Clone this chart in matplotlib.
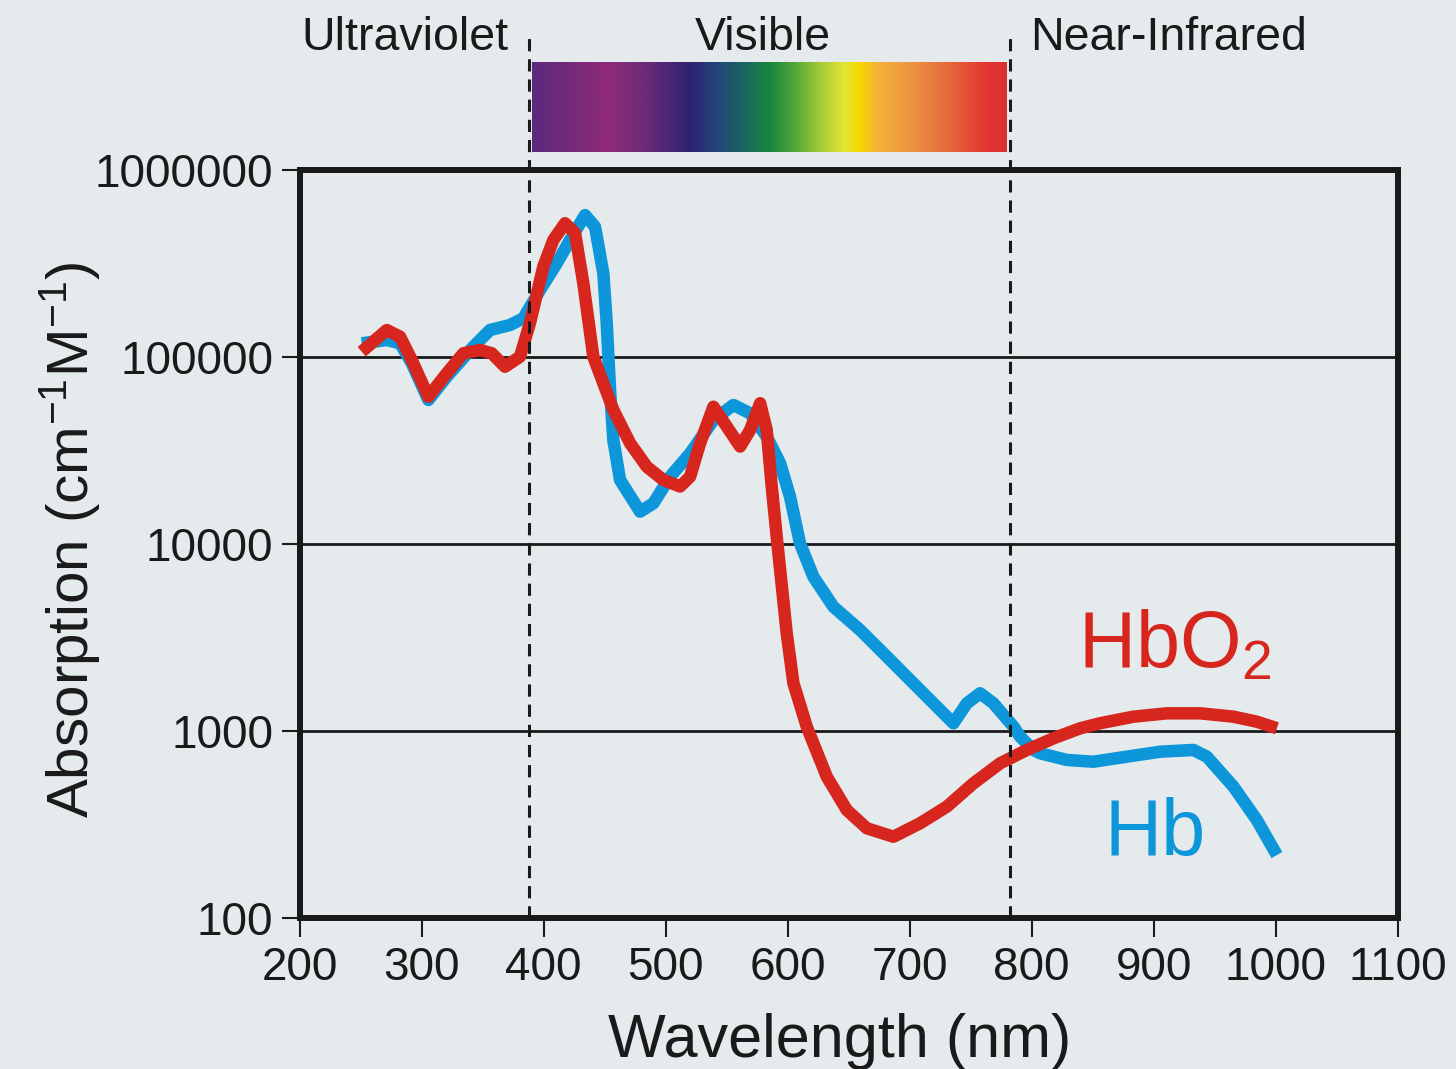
import numpy as np
import matplotlib
matplotlib.use('Agg')
import matplotlib.pyplot as plt
from matplotlib.colors import LinearSegmentedColormap
from matplotlib.ticker import NullLocator, FixedLocator, FixedFormatter
import matplotlib.transforms as mtransforms

plt.rcParams['font.family'] = ['Liberation Sans', 'DejaVu Sans']
plt.rcParams['mathtext.fontset'] = 'custom'
plt.rcParams['mathtext.rm'] = 'Liberation Sans'
plt.rcParams['mathtext.it'] = 'Liberation Sans:italic'
plt.rcParams['mathtext.bf'] = 'Liberation Sans:bold'

# ---------------- data ----------------
hb_wl = [251, 271.5, 282.4, 292, 305.6, 320.7, 342.5, 356.1, 372.5, 383.4, 397.1,
         410.8, 421.7, 434, 442.2, 449, 451.8, 454.5, 457.2, 462.7, 479.1, 490,
         503.7, 520.1, 539.2, 555.6, 569.3, 582.9, 593.9, 602, 610.2, 621.1,
         637.5, 659.4, 681.3, 703.1, 725, 735.9, 746.9, 757.8, 768.7, 785.1,
         790.6, 801.5, 807, 828.9, 850.7, 878, 905.3, 932.6, 943.6, 965.4,
         984.6, 1001]
hb_abs = [118400, 123300, 118400, 92600, 58900, 78500, 113500, 139400, 148300,
          161000, 228000, 317000, 422000, 574000, 497000, 280000, 151400, 66600,
          36000, 22000, 14890, 16500, 22900, 30500, 46000, 55400, 50000, 37500,
          27000, 17900, 10080, 6690, 4620, 3470, 2500, 1800, 1295, 1100, 1406,
          1591, 1406, 1055, 932, 792, 760, 700, 685, 729, 775, 792, 729, 504,
          334, 217]

hbo2_wl = [251, 271.5, 282.4, 292, 305.6, 320.7, 334.3, 348, 357.5, 368.4, 380.7,
           388.9, 399.8, 408, 417.6, 425.8, 432.6, 440.8, 449, 457.2, 470.9,
           484.6, 498.2, 511.9, 520.1, 528.3, 539.2, 550.2, 561.1, 569.3, 577.5,
           582.9, 587, 591.1, 593.9, 599.3, 604.8, 615.7, 632.1, 648.5, 664.9,
           686.7, 708.6, 730.5, 752.3, 774.2, 796.1, 817.9, 839.8, 856.1, 883.4,
           910.8, 938.1, 965.4, 984.6, 1001]
hbo2_abs = [106700, 139400, 128400, 96400, 61300, 81800, 104700, 109000, 104700,
            88700, 100400, 152000, 304000, 422000, 519000, 460000, 248000,
            100400, 72300, 52100, 34600, 25900, 22000, 20300, 22900, 34600,
            54200, 42400, 33200, 40700, 56600, 40700, 20300, 10900, 7260, 3330,
            1800, 1055, 570, 378, 302, 272, 321, 394, 525, 672, 792, 914, 1034,
            1100, 1193, 1243, 1243, 1193, 1121, 1034]

x_ticks = [200, 300, 400, 500, 600, 700, 800, 900, 1000, 1100]
x_tick_labels = ['200', '300', '400', '500', '600', '700', '800', '900', '1000', '1100']
y_ticks = [100, 1000, 10000, 100000, 1000000]
y_tick_labels = ['100', '1000', '10000', '100000', '1000000']
grid_levels = [1000, 10000, 100000]
region_bounds = [388, 782]
region_labels = ['Ultraviolet', 'Visible', 'Near-Infrared']

# ---------------- style ----------------
W, H = 1456, 1069
BG = '#e5ebed'
INK = '#1a1a1a'
RED = '#d7261e'
BLUE = '#0d97da'
spec_stops = [0.0, 0.16, 0.24, 0.33, 0.39, 0.45, 0.50, 0.55, 0.61, 0.66, 0.69,
              0.73, 0.80, 0.88, 0.96, 1.0]
spec_cols = ['#5c2a7c', '#8f2a78', '#6c2a78', '#2f2272', '#22457a', '#19685e',
             '#168640', '#4ea53a', '#a9cc38', '#e4e634', '#f5d800', '#f4b33a',
             '#ec9442', '#e6683a', '#e0352e', '#dc3030']

fig = plt.figure(figsize=(W / 100, H / 100), dpi=100)
fig.patch.set_facecolor(BG)

ax_l, ax_r, ax_t, ax_b = 299.5, 1397.7, 170, 918
ax = fig.add_axes([ax_l / W, 1 - ax_b / H, (ax_r - ax_l) / W, (ax_b - ax_t) / H])
ax.set_facecolor(BG)
ax.set_xlim(200, 1100)
ax.set_yscale('log')
ax.set_ylim(100, 1e6)

ax.xaxis.set_major_locator(FixedLocator(x_ticks))
ax.xaxis.set_major_formatter(FixedFormatter(x_tick_labels))
ax.yaxis.set_major_locator(FixedLocator(y_ticks))
ax.yaxis.set_major_formatter(FixedFormatter(y_tick_labels))
ax.yaxis.set_minor_locator(NullLocator())
ax.xaxis.set_minor_locator(NullLocator())

ax.tick_params(axis='y', direction='out', length=13, width=1.5, color=INK,
               labelsize=33, pad=6, labelcolor=INK)
ax.tick_params(axis='x', direction='out', length=14, width=1.5, color=INK,
               labelsize=33, pad=6, labelcolor=INK)
for s in ax.spines.values():
    s.set_linewidth(4.3)
    s.set_color(INK)

for g in grid_levels:
    ax.axhline(g, color=INK, lw=2.0, zorder=1)

ax.plot(hb_wl, hb_abs, color=BLUE, lw=9, solid_joinstyle='round',
        solid_capstyle='butt', zorder=3)
ax.plot(hbo2_wl, hbo2_abs, color=RED, lw=9, solid_joinstyle='round',
        solid_capstyle='butt', zorder=4)

trans = mtransforms.blended_transform_factory(ax.transData, ax.transAxes)
top_frac = (ax_b - 35) / (ax_b - ax_t)
for b in region_bounds:
    ax.plot([b, b], [0, top_frac], transform=trans, clip_on=False, color=INK,
            lw=2.2, ls=(0, (4, 2.6)), zorder=5)

ax.text(838, 2200, r'HbO$_{\mathregular{2}}$', color=RED, fontsize=57,
        ha='left', va='baseline', zorder=6)
ax.text(860, 217, 'Hb', color=BLUE, fontsize=57, ha='left', va='baseline', zorder=6)

# region labels
for lbl, cx in zip(region_labels, [405, 763, 1169]):
    fig.text(cx / W, 1 - 50 / H, lbl, ha='center', va='baseline', fontsize=33.5,
             color=INK)

# spectrum bar
cb_l, cb_r, cb_t, cb_b = 532, 1007, 62, 152
cax = fig.add_axes([cb_l / W, 1 - cb_b / H, (cb_r - cb_l) / W, (cb_b - cb_t) / H])
cmap = LinearSegmentedColormap.from_list('spec', list(zip(spec_stops, spec_cols)))
cax.imshow(np.linspace(0, 1, 512)[None, :], aspect='auto', cmap=cmap,
           extent=[0, 1, 0, 1])
cax.set_axis_off()

# axis labels
fig.text(840 / W, 1 - 1057 / H, 'Wavelength (nm)', ha='center', va='baseline',
         fontsize=44, color=INK)
fig.text(70 / W, 1 - 540 / H,
         r'Absorption (cm$^{\mathregular{-1}}$M$^{\mathregular{-1}}$)',
         rotation=90, ha='center', va='center', fontsize=42, color=INK)

fig.savefig('out.png', dpi=100, facecolor=BG)
